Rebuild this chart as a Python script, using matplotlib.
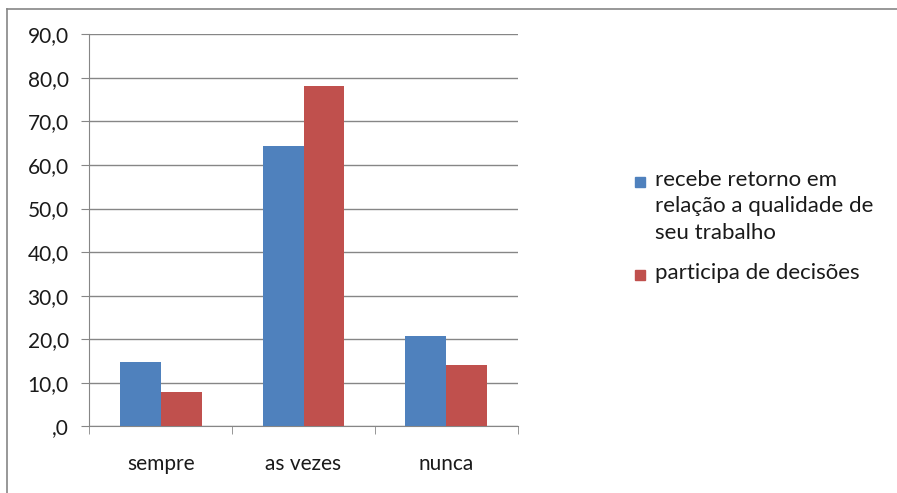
import matplotlib.pyplot as plt
import numpy as np
from matplotlib.lines import Line2D
from matplotlib.patches import Rectangle

categorias = ["sempre", "as vezes", "nunca"]
retorno = [14.8, 64.4, 20.7]
decisoes = [7.9, 78.1, 14.1]
series = ["recebe retorno em\nrelação a qualidade de\nseu trabalho", "participa de decisões"]
yticks = [0, 10, 20, 30, 40, 50, 60, 70, 80, 90]
ylabels = [",0"] + ["%d,0" % v for v in yticks[1:]]
cores = ["#4f81bd", "#c0504d"]

plt.rcParams['font.family'] = ['Lato', 'DejaVu Sans']

W, H = 897, 493
fig = plt.figure(figsize=(W / 100, H / 100), dpi=100)
axes = fig.add_axes([89.3 / W, 1 - 426.3 / H, (517.7 - 89.3) / W, (426.3 - 34.3) / H])

pos = np.arange(len(categorias))
larg = 0.287
axes.bar(pos - larg / 2, retorno, larg, color=cores[0], zorder=3)
axes.bar(pos + larg / 2, decisoes, larg, color=cores[1], zorder=3)

axes.set_xlim(-0.5, 2.5)
axes.set_ylim(0, 90)
axes.set_yticks(yticks)
axes.set_yticklabels(ylabels, fontsize=15, color="#1a1a1a")
axes.yaxis.grid(True, color="#868686", linewidth=1, zorder=0)
axes.set_xticks(pos)
axes.set_xticklabels(categorias, fontsize=15, color="#1a1a1a")
axes.set_xticks([-0.5, 0.5, 1.5, 2.5], minor=True)
axes.tick_params(axis="x", which="major", length=0, pad=20)
axes.tick_params(axis="x", which="minor", length=5.8, color="#868686", direction="out")
axes.tick_params(axis="y", length=5.8, color="#868686", pad=9)
for lado in ["top", "right"]:
    axes.spines[lado].set_visible(False)
axes.spines["left"].set_color("#868686")
axes.spines["bottom"].set_color("#868686")

# legenda desenhada à mão (quadrado alinhado com a primeira linha)
leg_y = [182, 275]
for cor, rotulo, y in zip(cores, series, leg_y):
    fig.add_artist(Rectangle((635 / W, 1 - (y + 5) / H), 10 / W, 10 / H,
                             color=cor, transform=fig.transFigure))
    fig.text(655 / W, 1 - (y - 12) / H, rotulo, fontsize=16, color="#1a1a1a",
             va="top", ha="left", linespacing=1.4)

# moldura do gráfico
fig.add_artist(Line2D([6.5 / W, 6.5 / W], [0, 1 - 9 / H], color="#868686", linewidth=1.2))
fig.add_artist(Line2D([6.5 / W, 1], [1 - 9 / H, 1 - 9 / H], color="#868686", linewidth=1.2))

fig.savefig("out.png", dpi=100)
